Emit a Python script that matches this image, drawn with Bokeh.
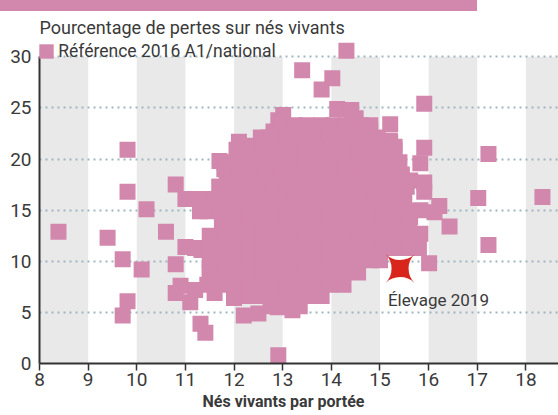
from bokeh.plotting import figure
from bokeh.models import (ColumnDataSource, FixedTicker, Legend, LegendItem, Range1d, Title, Div)
from bokeh.layouts import column
from bokeh.core.properties import value
from bokeh.embed import file_html
from bokeh.resources import INLINE

# ---------------- data ----------------
# reference farms 2016 (x: born alive per litter, y: % losses on born alive)
ref_x = [
    # isolated points
    8.39, 9.40, 9.71, 9.81, 9.71, 9.81, 9.81, 10.10, 10.20, 10.60, 10.80, 10.80, 10.80, 10.90,
    11.00, 11.00, 11.10, 11.20, 11.31, 11.41, 11.60, 12.00, 12.20, 12.50, 12.90, 13.20, 12.91,
    12.10, 12.30, 13.01, 13.40, 14.02, 13.80, 14.31, 14.12, 14.41, 14.50, 15.91, 15.21, 15.21,
    15.30, 15.91, 15.83, 17.23, 15.62, 15.91, 15.91, 17.02, 18.34, 16.22, 16.12, 16.43, 17.23,
    15.83, 15.62, 15.83, 16.01, 11.70, 11.80, 11.70, 11.30, 11.31, 11.30, 11.33, 11.60, 11.50,
    12.91, 12.81, 12.71, 13.30, 13.71, 14.04, 14.20, 14.80, 15.20,
    # dense core, row by row
    12.95, 13.25, 13.50, 13.80, 14.05, 14.30, 14.60, 14.80,
    12.55, 12.85, 13.10, 13.40, 13.65, 13.95, 14.20, 14.50, 14.75, 14.95,
    12.05, 12.35, 12.60, 12.90, 13.15, 13.45, 13.70, 14.00, 14.25, 14.55, 14.80, 15.10, 15.30,
    11.80, 12.10, 12.35, 12.65, 12.90, 13.20, 13.45, 13.75, 14.00, 14.30, 14.55, 14.85, 15.10, 15.40,
    11.85, 12.10, 12.40, 12.65, 12.95, 13.20, 13.50, 13.75, 14.05, 14.30, 14.60, 14.85, 15.15, 15.45,
    11.70, 12.00, 12.25, 12.55, 12.80, 13.10, 13.35, 13.65, 13.90, 14.20, 14.45, 14.75, 15.00, 15.30, 15.55,
    11.35, 11.60, 11.90, 12.15, 12.45, 12.70, 13.00, 13.25, 13.55, 13.80, 14.10, 14.35, 14.65, 14.90, 15.20, 15.50,
    11.45, 11.75, 12.00, 12.30, 12.55, 12.85, 13.10, 13.40, 13.65, 13.95, 14.20, 14.50, 14.75, 15.05, 15.30, 15.55,
    11.75, 12.00, 12.30, 12.55, 12.85, 13.10, 13.40, 13.65, 13.95, 14.20, 14.50, 14.75, 15.05, 15.30, 15.60,
    11.50, 11.80, 12.05, 12.35, 12.60, 12.90, 13.15, 13.45, 13.70, 14.00, 14.25, 14.55, 14.80, 15.10, 15.35, 15.65,
    11.20, 11.50, 11.75, 12.05, 12.30, 12.60, 12.85, 13.15, 13.40, 13.70, 13.95, 14.25, 14.50, 14.80, 15.05, 15.35, 15.60, 15.80,
    11.50, 11.75, 12.05, 12.30, 12.60, 12.85, 13.15, 13.40, 13.70, 13.95, 14.25, 14.50, 14.80, 15.00,
    11.50, 11.80, 12.05, 12.35, 12.60, 12.90, 13.15, 13.45, 13.70, 14.00, 14.25, 14.55,
    11.45, 11.75, 12.00, 12.30, 12.55, 12.85, 13.10, 13.40, 13.65, 13.95, 14.25,
    12.00, 12.30, 12.55, 12.85, 13.10, 13.40, 13.65, 13.80,
    12.75, 13.05, 13.35,
]
ref_y = [
    12.9, 12.3, 10.2, 6.1, 4.7, 16.8, 20.9, 9.2, 15.1, 12.9, 17.5, 9.7, 6.9, 7.6,
    16.1, 11.4, 6.0, 7.2, 3.9, 3.0, 6.9, 6.4, 4.7, 4.9, 5.5, 5.2, 0.8,
    21.7, 21.3, 24.3, 28.7, 27.9, 26.8, 30.6, 24.9, 24.8, 24.0, 25.4, 23.4, 21.7,
    21.2, 21.1, 19.6, 20.5, 17.9, 17.7, 16.8, 16.2, 16.3, 15.4, 14.8, 13.4, 11.6,
    15.0, 14.3, 12.7, 9.8, 19.8, 19.0, 17.3, 16.1, 15.8, 14.9, 11.1, 11.9, 9.3,
    23.8, 22.7, 22.1, 23.1, 22.9, 22.7, 23.2, 22.8, 21.8,
    23.3, 23.3, 23.3, 23.3, 23.3, 23.3, 23.3, 23.3,
    22.1, 22.1, 22.1, 22.1, 22.1, 22.1, 22.1, 22.1, 22.1, 22.1,
    20.9, 20.9, 20.9, 20.9, 20.9, 20.9, 20.9, 20.9, 20.9, 20.9, 20.9, 20.9, 20.9,
    19.7, 19.7, 19.7, 19.7, 19.7, 19.7, 19.7, 19.7, 19.7, 19.7, 19.7, 19.7, 19.7, 19.7,
    18.5, 18.5, 18.5, 18.5, 18.5, 18.5, 18.5, 18.5, 18.5, 18.5, 18.5, 18.5, 18.5, 18.5,
    17.3, 17.3, 17.3, 17.3, 17.3, 17.3, 17.3, 17.3, 17.3, 17.3, 17.3, 17.3, 17.3, 17.3, 17.3,
    16.1, 16.1, 16.1, 16.1, 16.1, 16.1, 16.1, 16.1, 16.1, 16.1, 16.1, 16.1, 16.1, 16.1, 16.1, 16.1,
    14.9, 14.9, 14.9, 14.9, 14.9, 14.9, 14.9, 14.9, 14.9, 14.9, 14.9, 14.9, 14.9, 14.9, 14.9, 14.9,
    13.7, 13.7, 13.7, 13.7, 13.7, 13.7, 13.7, 13.7, 13.7, 13.7, 13.7, 13.7, 13.7, 13.7, 13.7,
    12.5, 12.5, 12.5, 12.5, 12.5, 12.5, 12.5, 12.5, 12.5, 12.5, 12.5, 12.5, 12.5, 12.5, 12.5, 12.5,
    11.3, 11.3, 11.3, 11.3, 11.3, 11.3, 11.3, 11.3, 11.3, 11.3, 11.3, 11.3, 11.3, 11.3, 11.3, 11.3, 11.3, 11.3,
    10.1, 10.1, 10.1, 10.1, 10.1, 10.1, 10.1, 10.1, 10.1, 10.1, 10.1, 10.1, 10.1, 10.1,
    8.9, 8.9, 8.9, 8.9, 8.9, 8.9, 8.9, 8.9, 8.9, 8.9, 8.9, 8.9,
    7.7, 7.7, 7.7, 7.7, 7.7, 7.7, 7.7, 7.7, 7.7, 7.7, 7.7,
    6.6, 6.6, 6.6, 6.6, 6.6, 6.6, 6.6, 6.6,
    5.6, 5.6, 5.6,
]

farm_x = [15.43]
farm_y = [9.2]
farm_label = ["Élevage 2019"]

band_start = [8, 10, 12, 14, 16, 18]
band_end = [9, 11, 13, 15, 17, 19]
band_top = [30] * 6
band_bottom = [0] * 6

x_ticks = [8, 9, 10, 11, 12, 13, 14, 15, 16, 17, 18]
y_ticks = [0, 5, 10, 15, 20, 25, 30]

title_text = "Pourcentage de pertes sur nés vivants"
legend_text = "Référence 2016 A1/national"
xlabel_text = "Nés vivants par portée"

# ---------------- style ----------------
PINK = "#d287ac"
GREY_BAND = "#e9e9e9"
TXT = "#3a3a3a"
RED = "#d8261d"
FONT = "Roboto"

p = figure(width=558, height=404, output_backend="svg", toolbar_location=None,
           x_range=Range1d(8, 18.67), y_range=Range1d(0, 31.6),
           min_border_left=39, min_border_right=0, min_border_top=29, min_border_bottom=52)
p.outline_line_color = None
p.background_fill_color = "white"
p.border_fill_color = "white"

bands = p.quad(left=band_start, right=band_end, top=band_top, bottom=band_bottom,
               fill_color=GREY_BAND, line_color=None, level="image")

# swatch used only by the legend (hidden renderer, square area legend)
swatch = p.quad(left=band_start[:1], right=band_end[:1], top=band_top[:1], bottom=band_bottom[:1],
                fill_color=PINK, line_color=None, visible=False)

p.xgrid.grid_line_color = None
p.ygrid.ticker = FixedTicker(ticks=y_ticks[1:])
p.ygrid.grid_line_color = "#9fb6bf"
p.ygrid.grid_line_width = 2
p.ygrid.grid_line_dash = "2 4"

src = ColumnDataSource(dict(x=ref_x, y=ref_y))
pts = p.scatter("x", "y", source=src, marker="square", size=16, fill_color=PINK, line_color=None)

star_src = ColumnDataSource(dict(x=farm_x, y=farm_y, t=farm_label, s=["\u2726"]))
p.text("x", "y", text="s", source=star_src, text_color=RED, text_font=value("DejaVu Sans"),
       text_font_size="54px", angle=0.785398, text_align="center", text_baseline="middle")
p.text("x", "y", text="t", source=star_src, text_color=TXT, text_font=value(FONT),
       text_font_size="17px", x_offset=-13, y_offset=31, text_baseline="alphabetic")

for ax in (p.xaxis[0], p.yaxis[0]):
    ax.axis_line_color = "#333333"
    ax.axis_line_width = 2
    ax.major_tick_line_color = "#333333"
    ax.major_tick_line_width = 1.5
    ax.minor_tick_line_color = None
    ax.major_label_text_font = FONT
    ax.major_label_text_font_size = "19px"
    ax.major_label_text_color = TXT

p.xaxis.ticker = FixedTicker(ticks=x_ticks)
p.xaxis.major_tick_out = 7
p.xaxis.major_tick_in = 0
p.xaxis.major_label_standoff = 2
p.yaxis.ticker = FixedTicker(ticks=y_ticks)
p.yaxis.bounds = (0, 30)
p.yaxis.major_tick_out = 0
p.yaxis.major_tick_in = 0
p.yaxis.major_label_standoff = 8

p.title.text = title_text
p.title.text_font = FONT
p.title.text_font_size = "18px"
p.title.text_font_style = "normal"
p.title.text_color = TXT
p.title.align = "left"
p.title.offset = 0
p.title.standoff = 6

legend = Legend(items=[LegendItem(label=legend_text, renderers=[swatch])],
                location=(-1.8, 302.1),
                margin=0, padding=0, spacing=0, label_standoff=3, glyph_width=18, glyph_height=18,
                background_fill_alpha=0, border_line_color=None, inactive_fill_alpha=0,
                label_text_font=FONT, label_text_font_size="17.5px", label_text_color=TXT)
p.add_layout(legend)

xt = Title(text=xlabel_text, align="left", offset=163, standoff=3,
           text_font=FONT, text_font_size="16px", text_font_style="bold", text_color=TXT)
p.add_layout(xt, "below")

banner = Div(text="", width=477, height=11, margin=0, styles={"background-color": PINK})
layout = column(banner, p, spacing=0, margin=0)

open("out.html", "w").write(file_html(layout, INLINE))
